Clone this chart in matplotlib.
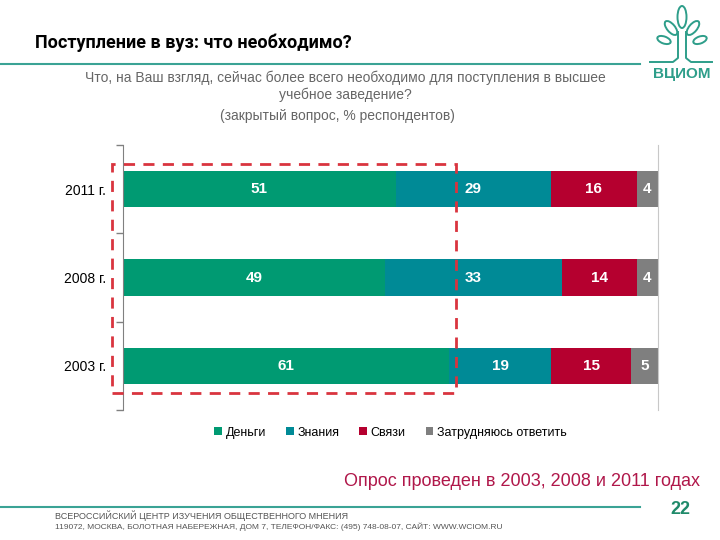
import numpy as np
import matplotlib.pyplot as plt
from matplotlib.patches import Rectangle, Ellipse

# data
years = ['2003 г.', '2008 г.', '2011 г.']
money = [61, 49, 51]
knowledge = [19, 33, 29]
connections = [15, 14, 16]
hard_to_say = [5, 4, 4]
series_names = ['Деньги', 'Знания', 'Связи', 'Затрудняюсь ответить']
colors = ['#009A72', '#008A96', '#B5002F', '#7F7F7F']

plt.rcParams['font.family'] = ['Liberation Sans', 'DejaVu Sans']

fig = plt.figure(figsize=(7.2, 5.4), dpi=100)
ax = fig.add_axes([123 / 720, 1 - 410 / 540, 535 / 720, 265 / 540])

y = np.arange(len(years))
left = np.zeros(len(years))
for vals, name, col in zip([money, knowledge, connections, hard_to_say], series_names, colors):
    vals = np.array(vals)
    bars = ax.barh(y, vals, left=left, height=0.41, color=col, label=name)
    for b, v in zip(bars, vals):
        ax.text(b.get_x() + b.get_width() / 2, b.get_y() + b.get_height() / 2, str(v),
                ha='center', va='center', color='white', fontsize=11, fontweight='bold')
    left += vals

ax.set_xlim(0, 100)
ax.set_ylim(-0.5, 2.5)
ax.set_yticks(y)
ax.set_yticklabels(years, fontsize=10)
ax.tick_params(axis='y', which='major', length=0, pad=12)
ax.set_yticks([-0.5, 0.5, 1.5, 2.5], minor=True)
ax.tick_params(axis='y', which='minor', length=5, color='#808080', width=1)
ax.set_xticks([])
for s in ['top', 'bottom']:
    ax.spines[s].set_visible(False)
ax.spines['left'].set_color('#808080')
ax.spines['right'].set_color('#C8C8C8')

# dashed highlight frame
ax.add_patch(Rectangle((-2.06, -0.31), 64.3, 2.6, fill=False, edgecolor='#D9343F',
                       linewidth=2, linestyle=(0, (4, 3)), clip_on=False, zorder=5))

ax.legend(loc='upper center', bbox_to_anchor=(0.5, -0.02), ncol=4, frameon=False,
          fontsize=9, handlelength=0.6, handleheight=0.6, handletextpad=0.3, columnspacing=1.6)

# header
fig.text(35 / 720, 1 - 43 / 540, 'Поступление в вуз: что необходимо?', fontsize=13,
         fontweight='bold', va='center', family=['Roboto', 'DejaVu Sans'])
fig.add_artist(plt.Line2D([0, 640 / 720], [1 - 64 / 540] * 2, color='#3AA395', lw=1.5))
fig.text(345 / 720, 1 - 78 / 540, 'Что, на Ваш взгляд, сейчас более всего необходимо для поступления в высшее',
         fontsize=10, color='#666666', ha='center', va='center')
fig.text(345 / 720, 1 - 95 / 540, 'учебное заведение?', fontsize=10, color='#666666',
         ha='center', va='center')
fig.text(337 / 720, 1 - 116 / 540, '(закрытый вопрос, % респондентов)', fontsize=10,
         color='#666666', ha='center', va='center')

# logo (pixel coords, y downward)
lax = fig.add_axes([640 / 720, 1 - 85 / 540, 80 / 720, 85 / 540])
lax.set_xlim(640, 720)
lax.set_ylim(85, 0)
lax.axis('off')
logo_col = '#2E9E8A'
lw = 1.4
lax.add_patch(Ellipse((682, 17), 9, 22, fill=False, ec=logo_col, lw=lw))
lax.add_patch(Ellipse((671, 28), 8, 17, angle=-40, fill=False, ec=logo_col, lw=lw))
lax.add_patch(Ellipse((693, 28), 8, 17, angle=40, fill=False, ec=logo_col, lw=lw))
lax.add_patch(Ellipse((664, 40), 7, 14, angle=-70, fill=False, ec=logo_col, lw=lw))
lax.add_patch(Ellipse((700, 40), 7, 14, angle=70, fill=False, ec=logo_col, lw=lw))
lax.plot([678, 678, 673, 650], [32, 58, 62, 62], color=logo_col, lw=lw)
lax.plot([686, 686, 691, 712], [32, 58, 62, 62], color=logo_col, lw=lw)
lax.text(682, 74, 'ВЦИОМ', color=logo_col, fontsize=11, fontweight='bold',
         ha='center', va='center')

# footer
fig.text(700 / 720, 1 - 481 / 540, 'Опрос проведен в 2003, 2008 и 2011 годах', fontsize=13,
         color='#B0174A', ha='right', va='center')
fig.add_artist(plt.Line2D([0, 640 / 720], [1 - 507 / 540] * 2, color='#3AA395', lw=1.5))
fig.text(680 / 720, 1 - 510 / 540, '22', fontsize=13, fontweight='bold', color='#1F8A6A',
         ha='center', va='center')
fig.text(55 / 720, 1 - 516 / 540, 'ВСЕРОССИЙСКИЙ ЦЕНТР ИЗУЧЕНИЯ ОБЩЕСТВЕННОГО МНЕНИЯ',
         fontsize=6.5, color='#555555', va='center')
fig.text(55 / 720, 1 - 527 / 540,
         '119072, МОСКВА, БОЛОТНАЯ НАБЕРЕЖНАЯ, ДОМ 7, ТЕЛЕФОН/ФАКС: (495) 748-08-07, САЙТ: WWW.WCIOM.RU',
         fontsize=6, color='#555555', va='center')

fig.savefig('out.png', dpi=100)
